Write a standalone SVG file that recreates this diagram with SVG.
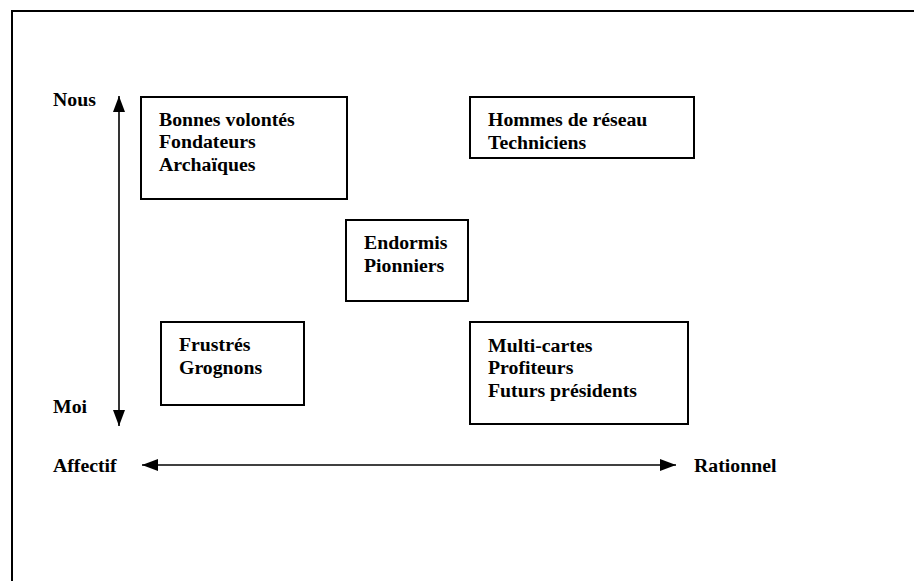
<svg xmlns="http://www.w3.org/2000/svg" width="914" height="581" viewBox="0 0 914 581">
<style>
.box{fill:#fff;stroke:#000;stroke-width:2}
.t{font-family:"Liberation Serif","Times New Roman",serif;font-weight:bold;font-size:19.8px;fill:#000}
.ax{stroke:#000;stroke-width:1.6;fill:none}
</style>
<defs>
<marker id="ah" viewBox="0 0 16 12" refX="16" refY="6" markerWidth="16" markerHeight="12" markerUnits="userSpaceOnUse" orient="auto-start-reverse">
<path d="M0,0 L16,6 L0,12 Z" fill="#000"/>
</marker>
</defs>
<rect width="914" height="581" fill="#fff"/>
<path d="M12,581 V11 H914" fill="none" stroke="#000" stroke-width="2"/>
<g id="connectors">
<line class="ax" x1="119" y1="96" x2="119" y2="426" marker-start="url(#ah)" marker-end="url(#ah)"/>
<line class="ax" x1="142" y1="465" x2="676" y2="465" marker-start="url(#ah)" marker-end="url(#ah)"/>
</g>
<g id="labels">
<text class="t" x="53" y="106">Nous</text>
<text class="t" x="53" y="413">Moi</text>
<text class="t" x="53" y="472">Affectif</text>
<text class="t" x="694" y="472">Rationnel</text>
</g>
<g id="n1">
<rect class="box" x="141" y="97" width="206" height="102"/>
<text class="t" x="159" y="126">Bonnes volontés</text>
<text class="t" x="159" y="148">Fondateurs</text>
<text class="t" x="159" y="171">Archaïques</text>
</g>
<g id="n2">
<rect class="box" x="470" y="97" width="224" height="61"/>
<text class="t" x="488" y="126">Hommes de réseau</text>
<text class="t" x="488" y="149">Techniciens</text>
</g>
<g id="n3">
<rect class="box" x="346" y="220" width="122" height="81"/>
<text class="t" x="364" y="249">Endormis</text>
<text class="t" x="364" y="272">Pionniers</text>
</g>
<g id="n4">
<rect class="box" x="161" y="322" width="143" height="83"/>
<text class="t" x="179" y="351">Frustrés</text>
<text class="t" x="179" y="374">Grognons</text>
</g>
<g id="n5">
<rect class="box" x="470" y="322" width="218" height="102"/>
<text class="t" x="488" y="352">Multi-cartes</text>
<text class="t" x="488" y="374">Profiteurs</text>
<text class="t" x="488" y="397">Futurs présidents</text>
</g>
</svg>
